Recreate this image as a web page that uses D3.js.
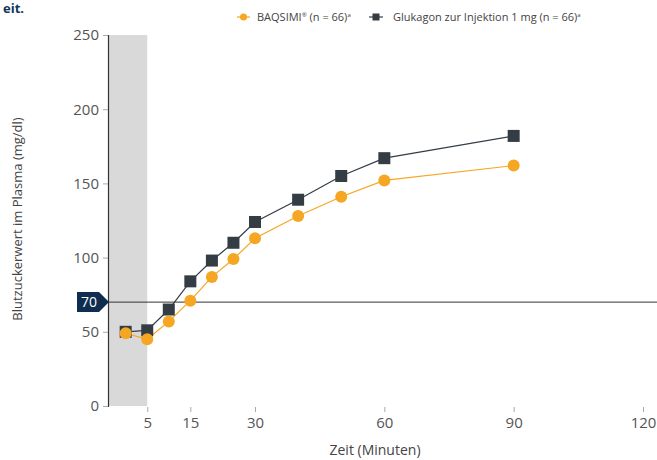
<!DOCTYPE html>
<html>
<head>
<meta charset="utf-8">
<script src="https://cdn.jsdelivr.net/npm/d3@7"></script>
<style>
  html, body { margin: 0; padding: 0; background: #ffffff; }
  svg { display: block; font-family: "Open Sans", "Lato", sans-serif; }
</style>
</head>
<body>
<script>
// data
const times = [0, 5, 10, 15, 20, 25, 30, 40, 50, 60, 90];
const baqsimi = [49, 45, 57, 71, 87, 99, 113, 128, 141, 152, 162];
const glukagon = [50, 51, 65, 84, 98, 110, 124, 139, 155, 167, 182];
const xTicks = [5, 15, 30, 60, 90, 120];
const yTicks = [0, 50, 100, 150, 200, 250];
const threshold = 70;
const shadeEnd = 5;

var width = 657, height = 460;
var svg = d3.select("body").append("svg")
    .attr("width", width)
    .attr("height", height)
    .attr("xmlns", "http://www.w3.org/2000/svg");

// scales
var x = d3.scaleLinear().domain([-4.1, 120]).range([108, 643]);
var y = d3.scaleLinear().domain([0, 250]).range([406, 35]);

// heading fragment at top left
svg.append("text")
    .attr("x", 3).attr("y", 13)
    .style("font-size", "13px").style("font-weight", "bold")
    .style("fill", "#12365c")
    .text("eit.");

// grey band for the first minutes
svg.append("rect")
    .attr("x", x.range()[0])
    .attr("y", y(250))
    .attr("width", x(shadeEnd) - x.range()[0])
    .attr("height", y(0) - y(250))
    .attr("fill", "#d9d9da");

// y axis
var yAxis = svg.append("g")
    .attr("transform", "translate(" + x.range()[0] + ",0)")
    .call(d3.axisLeft(y).tickValues(yTicks).tickSize(5).tickPadding(4));
yAxis.select(".domain").attr("stroke", "#333").attr("stroke-width", 1.2);
yAxis.selectAll(".tick line").attr("stroke", "#aaa");
yAxis.selectAll(".tick text")
    .style("font-size", "15px").style("fill", "#555")
    .style("font-family", "'Open Sans', sans-serif");

// x axis (ticks only)
var xAxis = svg.append("g")
    .attr("transform", "translate(0," + (y(0) + 1) + ")")
    .call(d3.axisBottom(x).tickValues(xTicks).tickSize(5).tickPadding(5));
xAxis.select(".domain").remove();
xAxis.selectAll(".tick line").attr("stroke", "#aaa");
xAxis.selectAll(".tick text")
    .style("font-size", "15px").style("fill", "#555")
    .style("font-family", "'Open Sans', sans-serif");

// threshold line at 70
svg.append("line")
    .attr("x1", x.range()[0]).attr("x2", 657)
    .attr("y1", y(threshold)).attr("y2", y(threshold))
    .attr("stroke", "#333").attr("stroke-width", 1);
var ty = y(threshold);
svg.append("path")
    .attr("d", "M77," + (ty - 10) + " L99," + (ty - 10) + " L109," + ty +
        " L99," + (ty + 10) + " L77," + (ty + 10) + " Z")
    .attr("fill", "#0e2d4f");
svg.append("text")
    .attr("x", 89).attr("y", ty + 5)
    .attr("text-anchor", "middle")
    .style("font-size", "14px").style("fill", "#ffffff")
    .text(threshold);

// lines
var line = d3.line()
    .x(function (d, i) { return x(times[i]); })
    .y(function (d) { return y(d); });

svg.append("path")
    .datum(glukagon)
    .attr("d", line)
    .attr("fill", "none")
    .attr("stroke", "#343c44")
    .attr("stroke-width", 1.2);

svg.append("path")
    .datum(baqsimi)
    .attr("d", line)
    .attr("fill", "none")
    .attr("stroke", "#f5a623")
    .attr("stroke-width", 1.2);

// markers, squares below circles
var sq = 12;
svg.selectAll(".sq")
    .data(glukagon)
    .enter()
    .append("rect")
    .attr("class", "sq")
    .attr("x", function (d, i) { return x(times[i]) - sq / 2; })
    .attr("y", function (d) { return y(d) - sq / 2; })
    .attr("width", sq).attr("height", sq)
    .attr("fill", "#343c44");

svg.selectAll(".dot")
    .data(baqsimi)
    .enter()
    .append("circle")
    .attr("class", "dot")
    .attr("cx", function (d, i) { return x(times[i]); })
    .attr("cy", function (d) { return y(d); })
    .attr("r", 6)
    .attr("fill", "#f5a623");

// legend
var leg = svg.append("g").style("font-size", "11px").style("fill", "#444");
leg.append("line").attr("x1", 237).attr("x2", 250).attr("y1", 17).attr("y2", 17)
    .attr("stroke", "#f5a623").attr("stroke-width", 1.2);
leg.append("circle").attr("cx", 243.5).attr("cy", 17).attr("r", 3.5).attr("fill", "#f5a623");
var t1 = leg.append("text").attr("x", 257).attr("y", 21);
t1.append("tspan").text("BAQSIMI");
t1.append("tspan").attr("dy", -4).style("font-size", "6px").text("®");
t1.append("tspan").attr("dy", 4).text(" (n = 66)");
t1.append("tspan").attr("dy", -4).style("font-size", "6px").text("a");

leg.append("line").attr("x1", 369).attr("x2", 383).attr("y1", 17).attr("y2", 17)
    .attr("stroke", "#343c44").attr("stroke-width", 1.2);
leg.append("rect").attr("x", 372.5).attr("y", 13.5).attr("width", 7).attr("height", 7).attr("fill", "#343c44");
var t2 = leg.append("text").attr("x", 393).attr("y", 21);
t2.append("tspan").text("Glukagon zur Injektion 1 mg (n = 66)");
t2.append("tspan").attr("dy", -4).style("font-size", "6px").text("a");

// axis titles
svg.append("text")
    .attr("transform", "translate(22,219) rotate(-90)")
    .attr("text-anchor", "middle")
    .style("font-size", "13px").style("fill", "#444")
    .text("Blutzuckerwert im Plasma (mg/dl)");

svg.append("text")
    .attr("x", 375).attr("y", 455)
    .attr("text-anchor", "middle")
    .style("font-size", "14px").style("fill", "#444")
    .text("Zeit (Minuten)");
</script>
</body>
</html>
